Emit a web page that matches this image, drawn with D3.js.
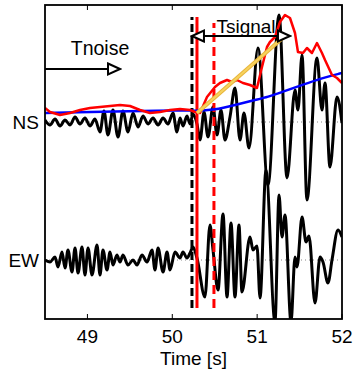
<!DOCTYPE html>
<html>
<head>
<meta charset="utf-8">
<script src="https://cdn.jsdelivr.net/npm/d3@7"></script>
<style>
  body { margin: 0; background: #fff; }
  svg { display: block; font-family: "Liberation Sans", Arial, Helvetica, sans-serif; }
</style>
</head>
<body>
<svg id="chart"></svg>
<script>
// channels and their offsets on the y axis
const channelNames = ['NS', 'EW'];
const channelLevels = [13.8, 0];
const xTicks = [49, 50, 51, 52];

// NS trace (time [s], amplitude)
const nsTime = [48.500, 48.559, 48.618, 48.677, 48.736, 48.795, 48.854, 48.912, 48.971, 49.030,
  49.089, 49.148, 49.195, 49.242, 49.301, 49.360, 49.419, 49.478, 49.537, 49.596,
  49.655, 49.714, 49.773, 49.832, 49.891, 49.949, 50.008, 50.055, 50.091, 50.126,
  50.173, 50.209, 50.244, 50.291, 50.327, 50.374, 50.421, 50.480, 50.527, 50.574,
  50.621, 50.680, 50.739, 50.798, 50.845, 50.904, 51.010, 51.128, 51.258, 51.352,
  51.446, 51.481, 51.529, 51.587, 51.705, 51.764, 51.800, 51.858, 51.941, 52.000];
const nsAmp = [0.2, -0.3, 0.3, -0.4, 0.2, -0.3, 0.5, -0.2, 0.4, -0.4,
  0.3, -1.0, 1.1, -1.3, 1.2, -1.5, 1.1, -1.0, 0.9, -0.5,
  0.6, -0.2, 0.4, -0.3, 0.4, -0.2, 0.9, -1.0, 0.4, -0.4,
  0.6, -0.2, 0.8, -0.2, -1.8, 1.0, -1.5, 1.5, -1.3, 1.2,
  -1.8, 0.5, 3.4, -1.8, 0.9, -2.6, 7.4, -6.3, 10.7, -5.6,
  3.2, 1.2, 6.7, -7.8, 6.4, 1.2, 3.9, -4.5, 2.5, -0.1];

// EW trace
const ewTime = [48.500, 48.559, 48.618, 48.653, 48.700, 48.736, 48.771, 48.818, 48.854, 48.889,
  48.936, 48.971, 49.007, 49.054, 49.113, 49.148, 49.183, 49.231, 49.266, 49.301,
  49.348, 49.384, 49.419, 49.478, 49.537, 49.584, 49.643, 49.702, 49.761, 49.796,
  49.832, 49.891, 49.938, 49.973, 50.032, 50.091, 50.126, 50.173, 50.209, 50.244,
  50.291, 50.385, 50.444, 50.480, 50.539, 50.598, 50.645, 50.692, 50.739, 50.786,
  50.821, 50.916, 50.951, 50.998, 51.034, 51.104, 51.210, 51.258, 51.293, 51.328,
  51.399, 51.446, 51.470, 51.529, 51.576, 51.611, 51.682, 51.741, 51.776, 51.835,
  51.882, 51.953, 52.000];
const ewAmp = [0.0, -0.2, 0.3, -0.7, 0.8, -0.8, 1.0, -1.2, 1.2, -1.3,
  1.3, -1.5, 1.2, -1.5, 1.5, -1.5, 1.0, -1.0, 0.8, -0.5,
  0.5, -0.2, 0.5, -0.5, 0.0, -0.5, 0.5, -0.2, 1.0, -1.0,
  1.2, -1.2, 0.8, -1.0, 0.8, 0.2, 0.8, 0.2, 0.7, 1.3,
  0.2, -3.7, 3.5, 1.0, -3.0, 4.6, -3.7, 3.7, -3.7, 3.5,
  -3.2, 2.3, 1.0, 1.4, -3.8, 9.0, -6.2, 6.5, 2.3, 4.5,
  -6.2, 0.3, -0.7, 4.3, 1.8, 2.4, -4.3, 0.3, -0.2, -2.3,
  0.0, 3.0, 2.3];

// envelope of NS (red)
const envTime = [48.500, 48.559, 48.677, 48.795, 48.912, 49.030, 49.148, 49.266, 49.384, 49.502,
  49.620, 49.737, 49.855, 49.973, 50.091, 50.209, 50.268, 50.327, 50.409, 50.503,
  50.562, 50.645, 50.704, 50.762, 50.833, 50.916, 50.998, 51.057, 51.116, 51.151,
  51.210, 51.269, 51.328, 51.387, 51.446, 51.481, 51.540, 51.587, 51.646, 51.705,
  51.764, 51.800, 51.882, 51.941, 52.000];
const envAmp = [1.4, 1.0, 0.7, 0.9, 1.2, 1.4, 1.5, 1.6, 1.7, 1.6,
  1.2, 0.9, 1.0, 1.2, 1.3, 1.2, 1.0, 0.9, 2.5, 3.5,
  3.9, 4.2, 4.0, 4.2, 3.9, 3.7, 3.4, 5.5, 7.5, 8.0,
  8.5, 10.0, 10.7, 10.4, 8.9, 7.0, 6.9, 7.4, 6.9, 7.9,
  6.9, 6.2, 4.7, 4.4, 3.9];

// long term average (blue)
const lteTime = [48.500, 50.032, 50.268, 50.503, 50.739, 50.975, 51.128, 51.293, 51.529, 51.764, 52.000];
const lteAmp = [0.9, 1.2, 1.1, 1.2, 1.7, 2.2, 2.5, 3.0, 3.7, 4.4, 4.9];

// fitted slope (yellow)
const slopeTime = [50.291, 51.340];
const slopeAmp = [0.9, 8.7];

// picks
const pickBlack = 50.232;
const pickRed = 50.291;
const pickRedDashed = 50.491;
const pickSpan = [-4.8, 24.3];

// windows
const noiseWindow = [48.5, 49.384];
const signalWindow = [50.232, 51.387];

const margin = { top: 5, right: 13, bottom: 52, left: 45 };
const outerWidth = 355;
const outerHeight = 371;
const width = outerWidth - margin.left - margin.right;
const height = outerHeight - margin.top - margin.bottom;

const xScale = d3.scaleLinear().domain([48.5, 52]).range([0, width]);
const yScale = d3.scaleLinear().domain([-5.9, 25.5]).range([height, 0]);

const svg = d3.select('#chart')
  .attr('width', outerWidth)
  .attr('height', outerHeight);

const defs = svg.append('defs');
defs.append('clipPath')
  .attr('id', 'plotClip')
  .append('rect')
  .attr('width', width)
  .attr('height', height);

defs.append('marker')
  .attr('id', 'openArrow')
  .attr('markerUnits', 'userSpaceOnUse')
  .attr('viewBox', '-2 -8 16 16')
  .attr('markerWidth', 16)
  .attr('markerHeight', 16)
  .attr('refX', 12)
  .attr('refY', 0)
  .attr('orient', 'auto-start-reverse')
  .append('path')
  .attr('d', 'M0,-5.5L12,0L0,5.5Z')
  .attr('fill', '#fff')
  .attr('stroke', '#000')
  .attr('stroke-width', 2);

const group = svg.append('g')
  .attr('transform', 'translate(' + margin.left + ',' + margin.top + ')');

const plot = group.append('g').attr('clip-path', 'url(#plotClip)');

// dotted grid at the channel levels
plot.selectAll('.grid')
  .data(channelLevels)
  .enter()
  .append('line')
  .attr('x1', 0)
  .attr('x2', width)
  .attr('y1', d => yScale(d))
  .attr('y2', d => yScale(d))
  .attr('stroke', '#888')
  .attr('stroke-width', 1)
  .attr('stroke-dasharray', '1,3');

const traceLine = level => d3.line()
  .x(d => xScale(d[0]))
  .y(d => yScale(d[1] + level))
  .curve(d3.curveMonotoneX);

const traces = [
  { time: nsTime, amp: nsAmp, level: channelLevels[0] },
  { time: ewTime, amp: ewAmp, level: channelLevels[1] }
];

traces.forEach(t => {
  plot.append('path')
    .datum(d3.zip(t.time, t.amp))
    .attr('d', traceLine(t.level))
    .attr('fill', 'none')
    .attr('stroke', '#000')
    .attr('stroke-width', 3)
    .attr('stroke-linejoin', 'round');
});

// pick lines
const picks = [
  { t: pickBlack, color: '#000', dash: '8,4' },
  { t: pickRed, color: '#f00', dash: null },
  { t: pickRedDashed, color: '#f00', dash: '9,5' }
];

plot.selectAll('.pick')
  .data(picks)
  .enter()
  .append('line')
  .attr('x1', d => xScale(d.t))
  .attr('x2', d => xScale(d.t))
  .attr('y1', yScale(pickSpan[0]))
  .attr('y2', d => yScale(pickSpan[1]) + (d.dash && d.color === '#f00' ? 6 : 0))
  .attr('stroke', d => d.color)
  .attr('stroke-width', 3)
  .attr('stroke-dasharray', d => d.dash);

// blue and red curves
plot.append('path')
  .datum(d3.zip(lteTime, lteAmp))
  .attr('d', traceLine(channelLevels[0]).curve(d3.curveBasis))
  .attr('fill', 'none')
  .attr('stroke', '#0000ff')
  .attr('stroke-width', 2.5);

plot.append('path')
  .datum(d3.zip(envTime, envAmp))
  .attr('d', traceLine(channelLevels[0]).curve(d3.curveLinear))
  .attr('fill', 'none')
  .attr('stroke', '#ff0000')
  .attr('stroke-width', 2.5)
  .attr('stroke-linejoin', 'round');

plot.append('path')
  .datum(d3.zip(slopeTime, slopeAmp))
  .attr('d', traceLine(channelLevels[0]).curve(d3.curveLinear))
  .attr('fill', 'none')
  .attr('stroke', '#e8b53a')
  .attr('stroke-width', 4);

plot.append('path')
  .datum(d3.zip(slopeTime, slopeAmp))
  .attr('d', traceLine(channelLevels[0]).curve(d3.curveLinear))
  .attr('fill', 'none')
  .attr('stroke', '#f7d25e')
  .attr('stroke-width', 2);

// window arrows
group.append('line')
  .attr('x1', xScale(noiseWindow[0]))
  .attr('x2', xScale(noiseWindow[1]))
  .attr('y1', yScale(19.1))
  .attr('y2', yScale(19.1))
  .attr('stroke', '#000')
  .attr('stroke-width', 2)
  .attr('marker-end', 'url(#openArrow)');

group.append('line')
  .attr('x1', xScale(signalWindow[0]))
  .attr('x2', xScale(signalWindow[1]))
  .attr('y1', yScale(22.4))
  .attr('y2', yScale(22.4))
  .attr('stroke', '#000')
  .attr('stroke-width', 2)
  .attr('marker-start', 'url(#openArrow)')
  .attr('marker-end', 'url(#openArrow)');

group.append('text')
  .attr('x', xScale(49.148))
  .attr('y', yScale(20.5))
  .attr('text-anchor', 'middle')
  .style('font-size', '19.5px')
  .text('Tnoise');

group.append('text')
  .attr('x', xScale(50.869))
  .attr('y', yScale(22.7))
  .attr('text-anchor', 'middle')
  .style('font-size', '19px')
  .text('Tsignal');

// axes box
group.append('rect')
  .attr('width', width)
  .attr('height', height)
  .attr('fill', 'none')
  .attr('stroke', '#000')
  .attr('stroke-width', 1.8);

// x ticks, inward top and bottom
xTicks.forEach(t => {
  group.append('line')
    .attr('x1', xScale(t)).attr('x2', xScale(t))
    .attr('y1', height).attr('y2', height - 5)
    .attr('stroke', '#000').attr('stroke-width', 1);
  group.append('line')
    .attr('x1', xScale(t)).attr('x2', xScale(t))
    .attr('y1', 0).attr('y2', 5)
    .attr('stroke', '#000').attr('stroke-width', 1);
  group.append('text')
    .attr('x', xScale(t))
    .attr('y', height + 24)
    .attr('text-anchor', 'middle')
    .style('font-size', '19px')
    .text(t);
});

// y ticks (channel names)
channelNames.forEach((name, i) => {
  group.append('text')
    .attr('x', -6)
    .attr('y', yScale(channelLevels[i]))
    .attr('dy', '0.36em')
    .attr('text-anchor', 'end')
    .style('font-size', '19px')
    .text(name);
});

group.append('text')
  .attr('x', width / 2)
  .attr('y', height + 46)
  .attr('text-anchor', 'middle')
  .style('font-size', '19px')
  .text('Time [s]');
</script>
</body>
</html>
